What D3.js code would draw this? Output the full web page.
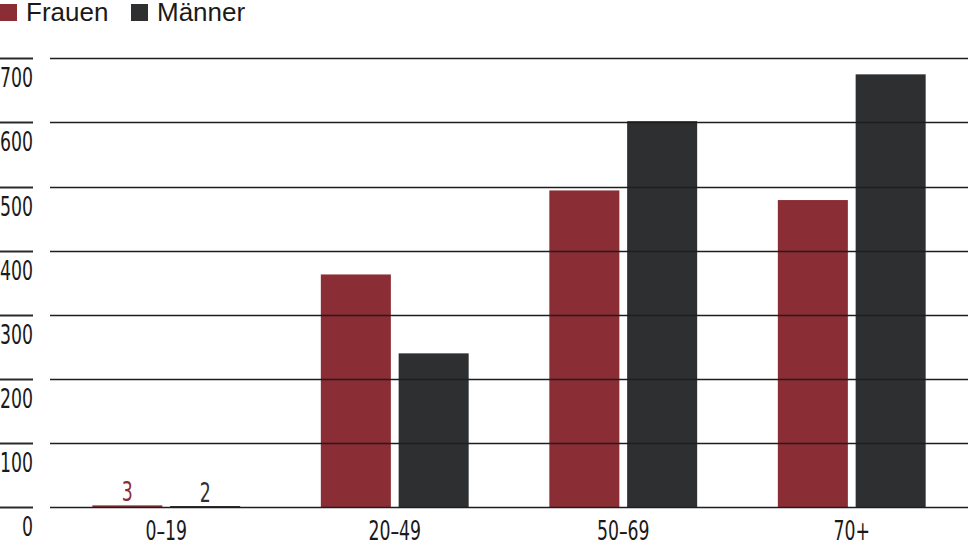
<!DOCTYPE html>
<html>
<head>
<meta charset="utf-8">
<script src="https://d3js.org/d3.v7.min.js"></script>
<style>
  body { margin: 0; background: #fff; }
  svg { display: block; }
  svg text.cond { font-family: "DejaVu Sans Condensed", "DejaVu Sans", sans-serif; font-stretch: condensed; }
</style>
</head>
<body>
<div id="vis"></div>
<script>
// data
var groups = ["0–19", "20–49", "50–69", "70+"];
var series = ["Frauen", "Männer"];
var frauen = [3, 363, 494, 479];
var maenner = [2, 240, 602, 675];
var yTicks = [0, 100, 200, 300, 400, 500, 600, 700];
var colors = ["#8b2d35", "#2e2f31"];

var width = 971, height = 546;
var svg = d3.select("#vis").append("svg")
  .attr("width", width)
  .attr("height", height);

var y = d3.scaleLinear().domain([0, 700]).range([507.3, 58.3]);
var x0 = d3.scaleBand().domain(groups).range([52, 966]).paddingInner(0.353).paddingOuter(0.1765);
var x1 = d3.scaleBand().domain(series).range([0, x0.bandwidth()]).paddingInner(0.1);

var rows = groups.map(function (g, i) {
  return { group: g, values: [frauen[i], maenner[i]] };
});

// bars
var gBars = svg.append("g");
rows.forEach(function (r) {
  gBars.selectAll(null)
    .data(r.values)
    .enter().append("rect")
    .attr("x", function (d, j) { return x0(r.group) + x1(series[j]); })
    .attr("width", x1.bandwidth())
    .attr("y", function (d) { return y(d); })
    .attr("height", function (d) { return Math.max(1.5, y(0) - y(d)); })
    .attr("fill", function (d, j) { return colors[j]; });
});

// gridlines on top of bars
var grid = svg.append("g");
grid.selectAll(null)
  .data(yTicks).enter().append("rect")
  .attr("x", 50).attr("width", 918)
  .attr("y", function (d) { return Math.round(y(d)) - 0.25; })
  .attr("height", 1.5)
  .attr("fill", "#1e1e1e");
// short piece above each y label
grid.selectAll(null)
  .data(yTicks).enter().append("rect")
  .attr("x", 0).attr("width", 33)
  .attr("y", function (d) { return Math.round(y(d)) - 0.5; })
  .attr("height", 2)
  .attr("fill", "#2a2a2a");

// condensed text helper: draw at 0,0 and squeeze horizontally
var fs = 26;
var probe = svg.append("text").attr("class", "cond").attr("font-size", fs).text("700");
var squeeze = 33 / probe.node().getComputedTextLength();
probe.remove();

function condText(g, data, px, py, anchor, fill, txt) {
  return g.selectAll(null)
    .data(data).enter().append("text")
    .attr("class", "cond")
    .attr("transform", function (d, i) {
      return "translate(" + px(d, i) + "," + py(d, i) + ") scale(" + squeeze + ",1)";
    })
    .attr("text-anchor", anchor)
    .attr("font-size", fs)
    .attr("fill", fill)
    .text(txt);
}

// y labels
condText(svg.append("g"), yTicks,
  function () { return 33; },
  function (d) { return y(d) + 29; },
  "end", "#1a1a1a", function (d) { return d; });

// category labels
condText(svg.append("g"), groups,
  function (d) { return x0(d) + x0.bandwidth() / 2; },
  function () { return 540; },
  "middle", "#1a1a1a", function (d) { return d; });

// value labels for the small first group
var firstVals = [frauen[0], maenner[0]];
condText(svg.append("g"), firstVals,
  function (d, j) { return x0(groups[0]) + x1(series[j]) + x1.bandwidth() / 2; },
  function (d) { return y(d) - 4; },
  "middle", function (d, j) { return colors[j]; }, function (d) { return d; });

// legend
var legX = [0, 131];
var leg = svg.append("g");
series.forEach(function (s, j) {
  leg.append("rect")
    .attr("x", legX[j]).attr("y", 4)
    .attr("width", 17).attr("height", 17)
    .attr("fill", colors[j]);
  leg.append("text")
    .attr("x", legX[j] + 26).attr("y", 21)
    .attr("font-size", 26)
    .style("font-family", "'Liberation Sans', Arial, sans-serif")
    .attr("fill", "#1a1a1a")
    .text(s);
});
</script>
</body>
</html>
